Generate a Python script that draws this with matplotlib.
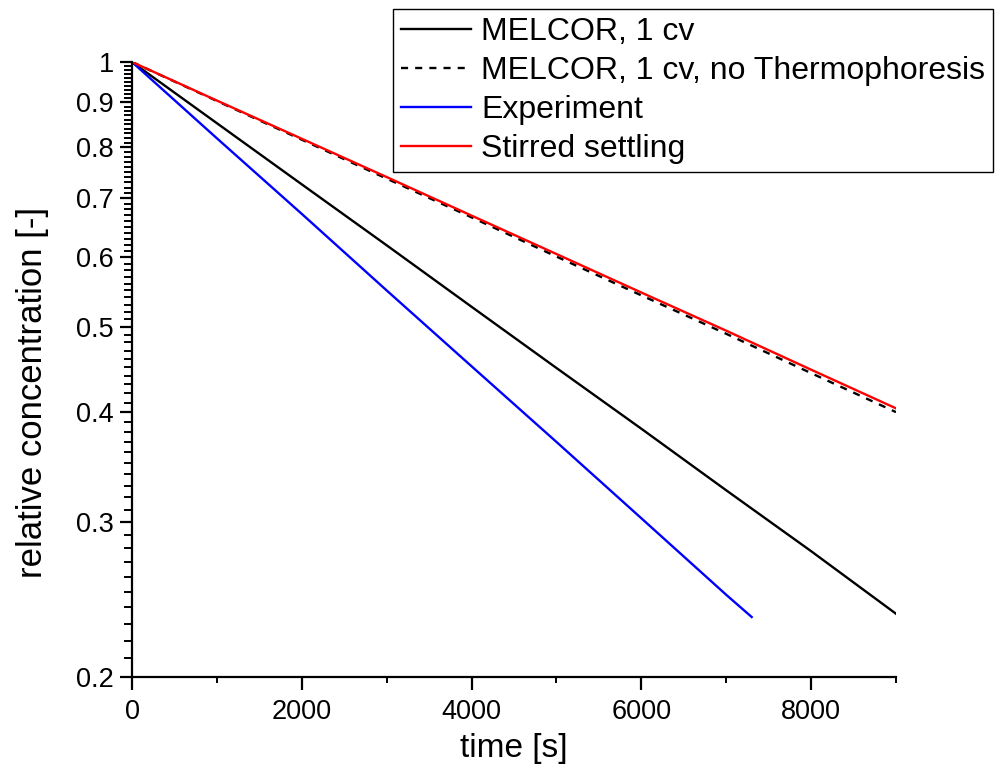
import numpy as np
import matplotlib
matplotlib.use("Agg")
import matplotlib.pyplot as plt
from matplotlib.ticker import FixedLocator, NullFormatter

plt.rcParams['font.family'] = ['Liberation Sans', 'DejaVu Sans']

# data
t_model = [0, 1000, 2000, 3000, 4000, 5000, 6000, 7000, 8000, 9000]
melcor_1cv = [1.0, 0.852, 0.726, 0.619, 0.527, 0.449, 0.383, 0.326, 0.278, 0.236]
melcor_no_thermo = [1.0, 0.903, 0.816, 0.737, 0.666, 0.601, 0.543, 0.491, 0.443, 0.400]
stirred = [1.0, 0.904, 0.818, 0.740, 0.669, 0.605, 0.547, 0.495, 0.447, 0.404]
t_exp = [0, 1000, 2000, 3000, 4000, 5000, 6000, 7000, 7300]
experiment = [1.0, 0.819, 0.672, 0.550, 0.451, 0.370, 0.303, 0.248, 0.234]

labels = ["MELCOR, 1 cv", "MELCOR, 1 cv, no Thermophoresis", "Experiment", "Stirred settling"]
y_major = [0.2, 0.3, 0.4, 0.5, 0.6, 0.7, 0.8, 0.9, 1.0]
y_major_labels = ["0.2", "0.3", "0.4", "0.5", "0.6", "0.7", "0.8", "0.9", "1"]
x_major = [0, 2000, 4000, 6000, 8000]
x_minor = [1000, 3000, 5000, 7000, 9000]

fig = plt.figure(figsize=(10.05, 7.73), dpi=100)
ax = fig.add_axes([132/1005, 1-677/773, (896-132)/1005, (677-62)/773])

lw = 1.7
h1, = ax.plot(t_model, melcor_1cv, color='black', lw=lw)
h2, = ax.plot(t_model, melcor_no_thermo, color='black', lw=lw, ls=(0, (3.0, 3.0)))
h3, = ax.plot(t_exp, experiment, color='#0000ff', lw=lw)
h4, = ax.plot(t_model, stirred, color='#ff0000', lw=lw)

ax.set_yscale('log')
ax.set_ylim(0.2, 1.0)
ax.set_xlim(0, 9000)

ax.yaxis.set_major_locator(FixedLocator(y_major))
ax.set_yticklabels(y_major_labels)
minor_y = [round(v, 2) for v in np.arange(0.21, 1.0, 0.01) if round(v, 2) not in y_major]
ax.yaxis.set_minor_locator(FixedLocator(minor_y))
ax.yaxis.set_minor_formatter(NullFormatter())
ax.xaxis.set_major_locator(FixedLocator(x_major))
ax.set_xticklabels([str(v) for v in x_major])
ax.xaxis.set_minor_locator(FixedLocator(x_minor))

for s in ['top', 'right']:
    ax.spines[s].set_visible(False)
for s in ['left', 'bottom']:
    ax.spines[s].set_linewidth(1.6)

ax.tick_params(axis='both', which='major', direction='out', width=1.6, labelsize=19.5, length=9)
ax.tick_params(axis='y', which='major', pad=4)
ax.tick_params(axis='x', which='major', pad=7)
ax.tick_params(axis='y', which='minor', direction='out', width=1.4, length=5.5)
ax.tick_params(axis='x', which='minor', direction='out', width=1.4, length=4)

ax.set_xlabel("time [s]", fontsize=24)
ax.set_ylabel("relative concentration [-]", fontsize=25)
ax.xaxis.set_label_coords(0.5, (677-733)/615, transform=ax.transAxes)
ax.yaxis.set_label_coords((49-132)/764, (677-392)/615, transform=ax.transAxes)

leg = fig.legend([h1, h2, h3, h4], labels, loc='upper right',
                 bbox_to_anchor=(993/1005, 1 - 9/773), bbox_transform=fig.transFigure,
                 fontsize=23, frameon=True, fancybox=False, framealpha=1,
                 edgecolor='black', borderpad=0.25, labelspacing=0.28,
                 handlelength=2.2, handletextpad=0.3, borderaxespad=0,
                 handleheight=0.7)
leg.get_frame().set_linewidth(1.0)

fig.savefig("out.png", dpi=100)
